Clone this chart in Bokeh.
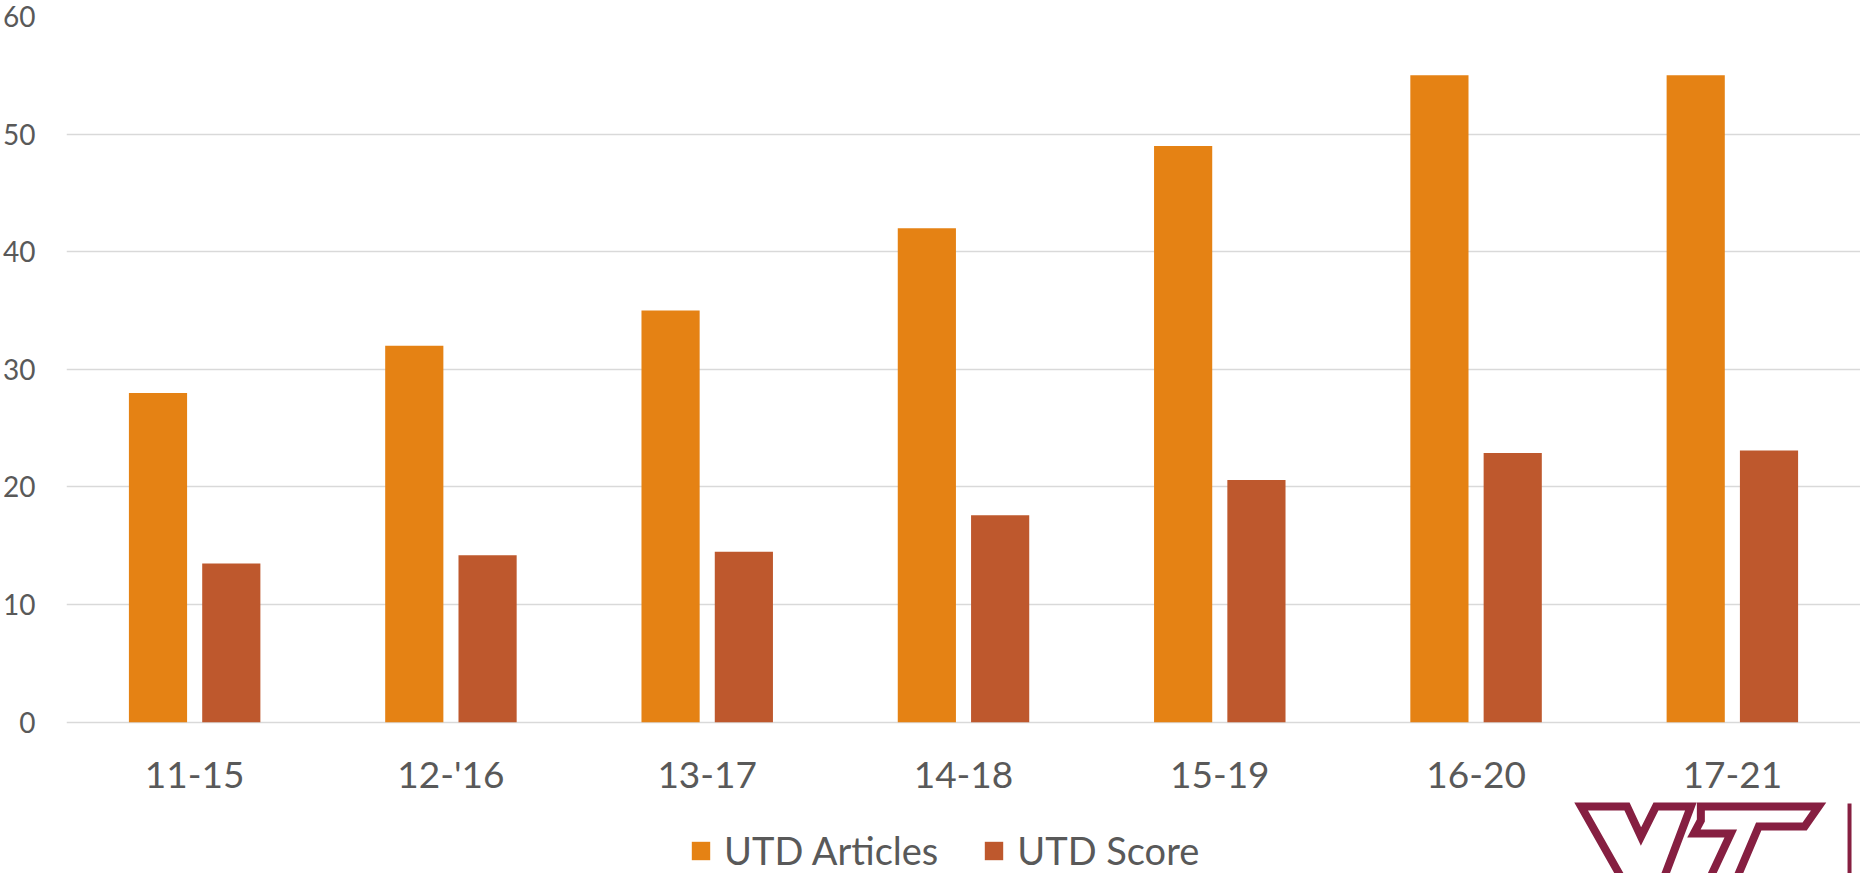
from bokeh.plotting import figure
from bokeh.models import ColumnDataSource, Range1d
from bokeh.transform import dodge
from bokeh.embed import file_html
from bokeh.resources import INLINE

periods = ["11-15", "12-'16", "13-17", "14-18", "15-19", "16-20", "17-21"]
utd_articles = [28, 32, 35, 42, 49, 55, 55]
utd_score = [13.5, 14.2, 14.5, 17.6, 20.6, 22.9, 23.1]
y_ticks = [0, 10, 20, 30, 40, 50, 60]

ORANGE = "#E58214"
RUST = "#BE582D"
GRID = "#D9D9D9"
TEXT = "#595959"
FONT = "Lato"
MAROON = "#861F41"

W, H = 1860, 873
LEFT, TOP = 62, 16

src = ColumnDataSource(dict(period=periods, articles=utd_articles, score=utd_score))

p = figure(x_range=periods, y_range=Range1d(-12.86, 60), width=W, height=H,
           output_backend="svg", toolbar_location=None,
           min_border_left=LEFT, min_border_right=0, min_border_top=TOP, min_border_bottom=0)
p.x_range.range_padding = 0
p.outline_line_color = None
p.background_fill_color = "white"
p.border_fill_color = "white"
p.extra_y_ranges = {"py": Range1d(H, TOP)}

p.vbar(x=dodge("period", -0.143, range=p.x_range), top="articles", width=0.227,
       source=src, fill_color=ORANGE, line_color=None, legend_label="UTD Articles")
p.vbar(x=dodge("period", 0.143, range=p.x_range), top="score", width=0.227,
       source=src, fill_color=RUST, line_color=None, legend_label="UTD Score")

p.xgrid.grid_line_color = None
p.ygrid.grid_line_color = GRID
p.ygrid.grid_line_width = 1.5
p.yaxis.ticker = y_ticks
p.xaxis.fixed_location = 0

for ax in (p.xaxis, p.yaxis):
    ax.axis_line_color = None
    ax.major_tick_line_color = None
    ax.minor_tick_line_color = None
    ax.major_label_text_color = TEXT
    ax.major_label_text_font = FONT

p.yaxis.major_label_text_font_size = "28px"
p.yaxis.major_label_standoff = 25
p.xaxis.major_label_text_font_size = "37px"
p.xaxis.major_label_standoff = 23

lg = p.legend[0]
lg.location = (623, 0)
lg.orientation = "horizontal"
lg.border_line_color = None
lg.background_fill_alpha = 0
lg.padding = 0
lg.margin = 0
lg.spacing = 44
lg.glyph_width = 23
lg.glyph_height = 23
lg.label_standoff = 12
lg.label_text_font = FONT
lg.label_text_font_size = "38px"
lg.label_text_color = TEXT

# VT logo (decorative), pixel coordinates -> categorical synthetic units
cat_w = (W - LEFT) / len(periods)
def sx(v):
    return [(x - LEFT) / cat_w for x in v]

v_xs = [1580, 1626, 1640, 1655, 1690, 1662, 1622]
v_ys = [806, 806, 836, 806, 806, 880, 880]
t_xs = [1700, 1818, 1804, 1758, 1735, 1708, 1730, 1693, 1700]
t_ys = [806, 806, 826, 826, 880, 880, 833, 833, 820]
p.patches(xs=[sx(v_xs), sx(t_xs)], ys=[v_ys, t_ys], fill_alpha=0, line_color=MAROON,
          line_width=8, line_join="miter", y_range_name="py")
p.quad(left=sx([1847]), right=sx([1851]), top=[803], bottom=[880], fill_color=MAROON,
       line_color=None, y_range_name="py")

open("out.html", "w").write(file_html(p, INLINE))
